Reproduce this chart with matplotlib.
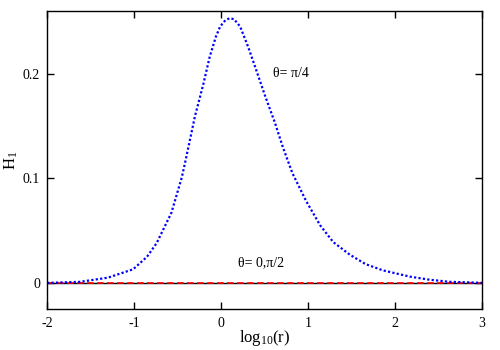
import matplotlib
matplotlib.use("Agg")
import matplotlib.pyplot as plt

plt.rcParams['font.family'] = ['Liberation Serif', 'DejaVu Serif']
plt.rcParams['mathtext.fontset'] = 'custom'
plt.rcParams['mathtext.rm'] = 'Liberation Serif'
plt.rcParams['mathtext.it'] = 'Liberation Serif:italic'

# theta = pi/4 curve
log_r = [-2.0, -1.62, -1.3, -1.01, -0.85, -0.74, -0.57, -0.45, -0.41, -0.30, -0.20, -0.13,
         -0.06, -0.01, 0.05, 0.10, 0.15, 0.22, 0.31, 0.39, 0.51, 0.62, 0.71, 0.82, 0.98,
         1.14, 1.29, 1.48, 1.66, 1.86, 2.17, 2.4, 2.63, 2.85, 3.0]
h1_pi4 = [0.0, 0.001, 0.005, 0.013, 0.025, 0.038, 0.067, 0.101, 0.116, 0.159, 0.191, 0.216,
          0.235, 0.245, 0.251, 0.253, 0.252, 0.245, 0.226, 0.207, 0.178, 0.153, 0.130, 0.105,
          0.078, 0.055, 0.039, 0.027, 0.018, 0.012, 0.006, 0.003, 0.001, 0.0005, 0.0]
# theta = 0, pi/2 curves (zero)
log_r_zero = [-2.0, 3.0]
h1_zero = [0.0, 0.0]

xticks = [-2, -1, 0, 1, 2, 3]
yticks = [0, 0.1, 0.2]

fig = plt.figure(figsize=(5, 3.5), dpi=100)
ax = fig.add_axes([0.094, 0.117, 0.87, 0.852])

ax.plot(log_r_zero, h1_zero, color='black', lw=1.0)
ax.plot(log_r_zero, h1_zero, color='red', lw=1.2, ls=(0, (4, 2)))
ax.plot(log_r, h1_pi4, color='blue', lw=1.6, ls=(0, (1, 1)))

ax.set_xlim(-2, 3)
ax.set_ylim(-0.025, 0.26)
ax.set_xticks(xticks)
ax.set_xticklabels([str(t) for t in xticks])
ax.set_yticks(yticks)
ax.set_yticklabels(['0', '0.1', '0.2'])
ax.tick_params(direction='in', top=True, right=True, length=5, width=1, labelsize=10)
ax.tick_params(axis='y', pad=5)
ax.tick_params(axis='x', pad=6)
for s in ax.spines.values():
    s.set_linewidth(1.0)

ax.set_xlabel(r'$\mathrm{log}_{10}\mathrm{(r)}$', fontsize=12, labelpad=0)
ax.set_ylabel(r'$\mathrm{H}_1$', fontsize=12, labelpad=2)
ax.yaxis.set_label_coords(-0.062, 0.5)
ax.xaxis.set_label_coords(0.5, -0.065)

ax.text(0.6, 0.2, 'θ= π/4', fontsize=10, va='center', ha='left')
ax.text(0.2, 0.019, 'θ= 0,π/2', fontsize=10, va='center', ha='left')

fig.savefig('out.png', dpi=100)
